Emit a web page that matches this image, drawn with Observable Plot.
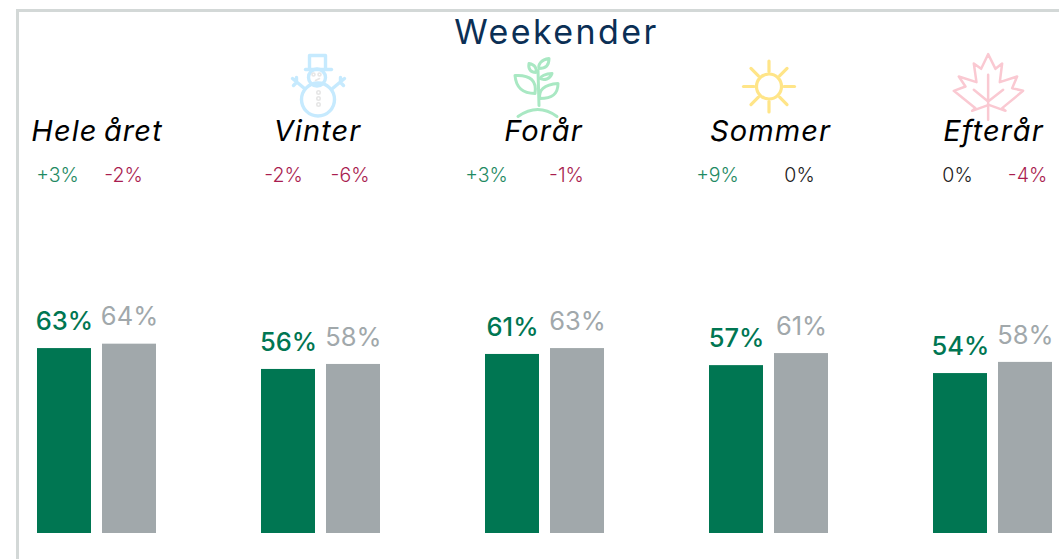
<!DOCTYPE html>
<html lang="da">
<head>
<meta charset="utf-8">
<script src="https://cdn.jsdelivr.net/npm/d3@7"></script>
<script src="https://cdn.jsdelivr.net/npm/@observablehq/plot@0.6"></script>
<style>
  html, body { margin: 0; padding: 0; background: #fff; overflow: hidden; }
  #root { position: relative; width: 1059px; height: 559px; font-family: Inter, "Open Sans", sans-serif; }
  #box { position: absolute; left: 16px; top: 9px; right: -10px; bottom: -10px; border: 3px solid #d3d8d7; }
  #title { position: absolute; left: 0; width: 1113px; top: 13px; text-align: center; font-size: 34px; line-height: 38px; letter-spacing: 2.4px; color: #0b2f55; }
  #chart { position: absolute; left: 0; top: 50px; }
  svg { overflow: visible; }
  .season-name { letter-spacing: 1.1px; word-spacing: -3px; }
</style>
</head>
<body>
<div id="root"><div id="box"></div><div id="title">Weekender</div><div id="chart"></div></div>
<script>
const seasons = ["Hele året", "Vinter", "Forår", "Sommer", "Efterår"];
const bars = ["first", "second"];
const firstValues = [62.9, 55.8, 60.9, 57.1, 54.4];
const secondValues = [64.4, 57.5, 62.9, 61.2, 58.2];
const firstLabels = ["63%", "56%", "61%", "57%", "54%"];
const secondLabels = ["64%", "58%", "63%", "61%", "58%"];
const leftDeltas = ["+3%", "-2%", "+3%", "+9%", "0%"];
const rightDeltas = ["-2%", "-6%", "-1%", "0%", "-4%"];

const GREEN = "#007652", GRAY = "#a1a8ab";
const deltaColor = d => d.startsWith("+") ? "#1f8a63" : d.startsWith("-") ? "#a91d50" : "#222222";

const svgUri = inner => "data:image/svg+xml;utf8," + encodeURIComponent(
  `<svg xmlns="http://www.w3.org/2000/svg" width="80" height="80" viewBox="0 0 80 80" fill="none" stroke-linecap="round" stroke-linejoin="round">${inner}</svg>`);

const sunRays = d3.range(8).map(i => {
  const a = i * Math.PI / 4, c = Math.cos(a), s = Math.sin(a);
  return `<line x1="${40 + 15 * c}" y1="${40 + 15 * s}" x2="${40 + 25.5 * c}" y2="${40 + 25.5 * s}"/>`;
}).join("");

const icons = [
  {season: "Vinter", dx: -2.5, src: svgUri(`<g stroke="#c6eafe" stroke-width="3.4"><path d="M31 22V9H47V22"/><path d="M27 23H53"/><circle cx="38.5" cy="31" r="8.5"/><circle cx="39.5" cy="53" r="16.5"/><path d="M26 42L14 32M18 35V31M18 36L15 39M54 42L66 32M62 35V31M62 36L65 39"/></g><g stroke="#e6e6e6" stroke-width="1.6"><circle cx="35" cy="28" r="1.5"/><circle cx="41" cy="28" r="1.5"/><path d="M37 34L41 32"/><circle cx="40" cy="46" r="1.7"/><circle cx="40" cy="52" r="1.7"/><circle cx="40" cy="58" r="1.7"/></g>`)},
  {season: "Forår", dx: -8, src: svgUri(`<g stroke="#a9e8c3" stroke-width="3"><path d="M42 59L41 24"/><path d="M21 70Q41 56 60 70"/><path d="M18 29C34 28 40 35 38 47C25 47 19 41 18 29Z"/><path d="M61 37C47 38 41 44 43 52C55 52 61 48 61 37Z"/><path d="M52 12C44 13 41 18 42 22C49 22 52 19 52 12Z"/><path d="M32 17C38 18 40 22 39 26C34 26 31 23 32 17Z"/><path d="M55 27C48 27 44 30 43 32C47 34 53 33 55 27Z"/></g>`)},
  {season: "Sommer", dx: 0, src: svgUri(`<g stroke="#ffe588" stroke-width="3.2"><circle cx="40" cy="40" r="12.5"/>${sunRays}</g>`)},
  {season: "Efterår", dx: -4.5, src: svgUri(`<g transform="translate(-248,-5) scale(.3333)" stroke="#fac9d2" stroke-width="7.5"><path d="M863 38L885 82L905 66L898 122L950 105L935 140L968 148L905 200L915 208L865 190L815 208L825 200L760 148L795 135L775 105L828 122L820 66L842 82Z"/><path d="M863 100V235M820 145L863 180L908 145"/></g>`)}
];

const seasonLabelDx = [0, -3.5, -1.5, 1.5, 0.5];
const deltaDx = [[-7, -6], [-5, -3.5], [-26, -11], [-19, -2], [-3, 2]];
const barRows = seasons.flatMap((season, i) => [
  {season, bar: bars[0], value: firstValues[i], label: firstLabels[i]},
  {season, bar: bars[1], value: secondValues[i], label: secondLabels[i]}
]);

const valueLabel = (bar, color, weight) => Plot.text(barRows.filter(d => d.bar === bar), {
  fx: "season", x: "bar", y: "value", text: "label", fill: color, fontWeight: weight,
  fontSize: 25.5, lineAnchor: "middle", dy: -27
});

const plot = Plot.plot({
  width: 1059, height: 509,
  marginLeft: 37, marginRight: 7, marginTop: 0, marginBottom: 26,
  style: {fontFamily: "Inter, 'Open Sans', sans-serif", background: "transparent"},
  fx: {domain: seasons, paddingInner: 105 / 224, paddingOuter: 0, axis: null},
  x: {domain: bars, paddingInner: 11 / 65, paddingOuter: 0, axis: null},
  y: {domain: [0, 483 / 2.94], axis: null},
  color: {domain: bars, range: [GREEN, GRAY]},
  marks: [
    Plot.barY(barRows, {fx: "season", x: "bar", y: "value", fill: "bar"}),
    valueLabel(bars[0], GREEN, 500),
    valueLabel(bars[1], GRAY, 400),
    ...seasons.map((season, i) => Plot.text([season], {
      fx: d => d, text: d => d, frameAnchor: "top", dx: seasonLabelDx[i], dy: 81.5,
      fontSize: 29, fontStyle: "italic", fontWeight: 400, fill: "#000", lineAnchor: "middle",
      className: "season-name"
    })),
    ...seasons.flatMap((season, i) => [leftDeltas[i], rightDeltas[i]].map((d, j) =>
      Plot.text([{season, bar: bars[j], d}], {
        fx: "season", x: "bar", text: "d", frameAnchor: "top", dy: 125, dx: deltaDx[i][j],
        fontSize: 19.5, fontWeight: 300, fill: deltaColor(d), lineAnchor: "middle"
      }))),
    ...icons.map(ic => Plot.image([ic], {
      fx: "season", src: "src", width: 80, height: 80, frameAnchor: "top", dy: 36, dx: ic.dx
    }))
  ]
});
document.getElementById("chart").append(plot);
</script>
</body>
</html>
